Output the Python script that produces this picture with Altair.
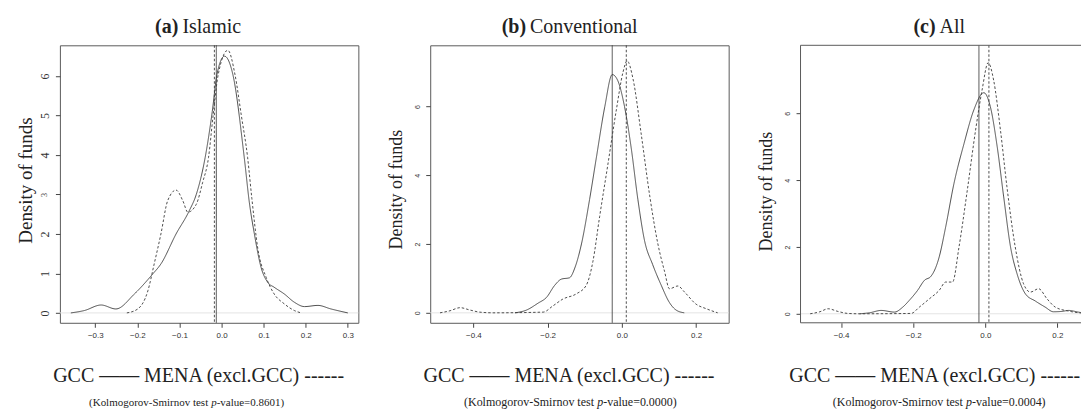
import altair as alt
import pandas as pd

# ---------------- data ----------------
# (a) Islamic
a_gcc_x = [-0.358, -0.326, -0.286, -0.251, -0.207, -0.164, -0.144, -0.108, -0.077, -0.060, -0.039,
           -0.022, -0.011, 0.007, 0.027, 0.054, 0.066, 0.078, 0.094, 0.110, 0.125, 0.149, 0.173,
           0.197, 0.229, 0.260, 0.300]
a_gcc_y = [0.0, 0.06, 0.20, 0.10, 0.48, 0.98, 1.24, 2.00, 2.58, 3.00, 3.93,
           5.10, 6.03, 6.50, 6.03, 3.93, 2.80, 2.00, 1.15, 0.77, 0.65, 0.48, 0.27,
           0.16, 0.19, 0.10, 0.0]
a_mena_x = [-0.225, -0.199, -0.175, -0.160, -0.144, -0.128, -0.108, -0.092, -0.080, -0.060, -0.045,
            -0.031, -0.020, -0.008, 0.015, 0.032, 0.047, 0.062, 0.072, 0.086, 0.106, 0.125,
            0.149, 0.173, 0.189]
a_mena_y = [0.0, 0.10, 0.56, 1.24, 2.00, 2.84, 3.11, 2.84, 2.55, 2.75, 3.30,
            3.93, 5.00, 6.03, 6.65, 6.03, 5.00, 3.93, 2.90, 1.64, 0.90, 0.48,
            0.23, 0.06, 0.0]
a_vlines = [-0.0124, -0.017]

# (b) Conventional
b_gcc_x = [-0.288, -0.257, -0.226, -0.203, -0.181, -0.163, -0.141, -0.127, -0.109, -0.087, -0.069,
           -0.046, -0.026, -0.011, 0.007, 0.025, 0.043, 0.061, 0.083, 0.106, 0.128, 0.146, 0.168]
b_gcc_y = [0.0, 0.08, 0.28, 0.45, 0.80, 0.98, 1.02, 1.30, 2.00, 3.30, 4.50,
           6.00, 6.93, 6.75, 6.00, 4.80, 3.30, 2.10, 1.40, 0.80, 0.30, 0.08, 0.0]
b_mena_x = [-0.490, -0.463, -0.436, -0.409, -0.383, -0.347, -0.212, -0.186, -0.159, -0.123, -0.096,
            -0.078, -0.060, -0.038, -0.015, 0.003, 0.014, 0.030, 0.052, 0.075, 0.097, 0.115,
            0.128, 0.151, 0.169, 0.200, 0.227, 0.258]
b_mena_y = [0.0, 0.06, 0.15, 0.08, 0.02, 0.0, 0.02, 0.20, 0.40, 0.55, 0.80,
            1.50, 2.80, 4.30, 5.90, 7.00, 7.33, 6.80, 5.20, 3.40, 2.00, 1.20,
            0.70, 0.78, 0.60, 0.25, 0.12, 0.0]
b_vlines = [-0.026, 0.0118]

# (c) All
c_gcc_x = [-0.349, -0.321, -0.289, -0.252, -0.229, -0.211, -0.188, -0.169, -0.151, -0.128, -0.110,
           -0.087, -0.059, -0.032, -0.004, 0.014, 0.033, 0.051, 0.070, 0.088, 0.111, 0.139,
           0.166, 0.189, 0.212, 0.231, 0.258, 0.286]
c_gcc_y = [0.0, 0.03, 0.10, 0.05, 0.20, 0.40, 0.70, 1.00, 1.12, 1.70, 2.60,
           3.90, 5.10, 6.10, 6.62, 6.20, 5.00, 3.50, 2.00, 1.20, 0.60, 0.38,
           0.20, 0.06, 0.07, 0.10, 0.05, 0.0]
c_mena_x = [-0.486, -0.459, -0.436, -0.409, -0.381, -0.349, -0.206, -0.183, -0.155, -0.128, -0.110,
            -0.091, -0.073, -0.050, -0.027, -0.009, 0.008, 0.023, 0.042, 0.060, 0.083, 0.106,
            0.125, 0.148, 0.171, 0.194, 0.231, 0.268, 0.286]
c_mena_y = [0.0, 0.06, 0.15, 0.07, 0.01, 0.0, 0.01, 0.20, 0.45, 0.70, 0.95,
            0.95, 2.00, 3.70, 5.50, 6.70, 7.52, 7.00, 5.50, 3.80, 2.00, 0.90,
            0.65, 0.75, 0.45, 0.20, 0.08, 0.02, 0.0]
c_vlines = [-0.0177, 0.0100]

series_names = ["GCC", "MENA (excl.GCC)"]
legend_text = "GCC \u2014\u2014 MENA (excl.GCC) ------"
pvalues = ["0.8601", "0.0000", "0.0004"]

# ---------------- layout constants ----------------
W, H = 299, 278
WC = 281  # last panel is cut at the right edge of the picture
SERIF = "Liberation Serif"
SANS = "Liberation Sans"
TXT = "#222222"
LINE = "#3a3a3a"
BOX = "#5a5a5a"

one = pd.DataFrame({"k": [0]})
dash_scale = alt.Scale(domain=series_names, range=[[1, 0], [2.5, 2]])


def make_panel(gx, gy, mx, my, vlines, xdom, xticks, ydom, yticks, ylab, ytitle_size,
               ytitle_y, letter, name, letter_right, name_left, pval, width=W,
               leg_x=139, k_center=139, k_size=12, anchor=False, open_right=False):
    df = pd.concat([
        pd.DataFrame({"x": gx, "y": gy, "series": series_names[0]}),
        pd.DataFrame({"x": mx, "y": my, "series": series_names[1]}),
    ])
    xs = alt.Scale(domain=xdom, nice=False, zero=False)
    ys = alt.Scale(domain=ydom, nice=False, zero=False)
    xaxis = alt.Axis(values=xticks, format=".1f", title=None, grid=False, domain=False,
                     tickSize=4.5, tickColor="#444", labelFont=SANS, labelFontSize=8,
                     labelColor="#333", labelPadding=4, labelFlush=False)
    yaxis = alt.Axis(values=yticks, format="d", title="Density of funds", grid=False,
                     domain=False, tickSize=4.5, tickColor="#444", labelColor="#333",
                     labelAngle=270, labelAlign="center", labelBaseline="middle",
                     titleFont=SERIF, titleFontSize=ytitle_size, titleFontWeight="normal",
                     titleColor=TXT, titleAngle=270, titleAlign="center",
                     titleBaseline="middle", titleX=-34, titleY=ytitle_y, **ylab)
    zero = alt.Chart(one).mark_rule(color="#e4e4e4", strokeWidth=1).encode(
        y=alt.datum(0, type="quantitative"))
    lines = alt.Chart(df).mark_line(color=LINE, strokeWidth=0.9, interpolate="monotone",
                                    clip=True).encode(
        x=alt.X("x:Q", scale=xs, axis=xaxis),
        y=alt.Y("y:Q", scale=ys, axis=yaxis),
        strokeDash=alt.StrokeDash("series:N", scale=dash_scale, legend=None),
        detail="series:N",
    )
    vdf = pd.DataFrame({"x": vlines, "series": series_names})
    vr = alt.Chart(vdf).mark_rule(color=LINE, strokeWidth=0.9).encode(
        x=alt.X("x:Q", scale=xs),
        strokeDash=alt.StrokeDash("series:N", scale=dash_scale, legend=None),
    )
    t_letter = alt.Chart(one).mark_text(text=letter, font=SERIF, fontSize=20, fontWeight="bold",
                                        align="right", baseline="alphabetic", color=TXT).encode(
        x=alt.value(letter_right), y=alt.value(-12))
    t_name = alt.Chart(one).mark_text(text=name, font=SERIF, fontSize=20, align="left",
                                      baseline="alphabetic", color=TXT).encode(
        x=alt.value(name_left), y=alt.value(-12))
    t_leg = alt.Chart(one).mark_text(text=legend_text, font=SERIF, fontSize=20, align="center",
                                     baseline="alphabetic", color=TXT).encode(
        x=alt.value(leg_x), y=alt.value(337.7))
    # "(Kolmogorov-Smirnov test " is ~24/64 of the full line left of the italic p
    total = 17.9 * k_size
    x0 = k_center - total / 2 + 11.0 * k_size
    t_k1 = alt.Chart(one).mark_text(text="(Kolmogorov-Smirnov test", font=SERIF, fontSize=k_size,
                                    align="right", baseline="alphabetic", color=TXT).encode(
        x=alt.value(x0), y=alt.value(361))
    t_k2 = alt.Chart(one).mark_text(text="p", font=SERIF, fontSize=k_size, fontStyle="italic",
                                    align="left", baseline="alphabetic", color=TXT).encode(
        x=alt.value(x0 + 0.27 * k_size), y=alt.value(361))
    t_k3 = alt.Chart(one).mark_text(text="-value=" + pval + ")", font=SERIF, fontSize=k_size,
                                    align="left", baseline="alphabetic", color=TXT).encode(
        x=alt.value(x0 + 0.77 * k_size), y=alt.value(361))
    layers = [zero, lines, vr, t_letter, t_name, t_leg, t_k1, t_k2, t_k3]
    if anchor:
        layers.append(alt.Chart(one).mark_rule(opacity=0).encode(
            x=alt.value(-51), y=alt.value(-36), y2=alt.value(-35)))
    props = dict(width=width, height=H)
    if open_right:
        for enc in (dict(x=alt.value(0), x2=alt.value(width), y=alt.value(0)),
                    dict(x=alt.value(0), x2=alt.value(width), y=alt.value(H)),
                    dict(x=alt.value(0), y=alt.value(0), y2=alt.value(H))):
            layers.append(alt.Chart(one).mark_rule(color=BOX, strokeWidth=1).encode(**enc))
        props["view"] = alt.ViewBackground(stroke="transparent")
    return alt.layer(*layers).properties(**props)


ylab_a = dict(labelFont=SERIF, labelFontSize={"expr": "datum.value == 3 ? 8 : 12"},
              labelPadding=11)
ylab_bc = dict(labelFont=SANS, labelFontSize=7, labelPadding=8.5)

pa = make_panel(a_gcc_x, a_gcc_y, a_mena_x, a_mena_y, a_vlines, [-0.384, 0.325],
                [-0.3, -0.2, -0.1, 0.0, 0.1, 0.2, 0.3], [-0.25, 6.775], [0, 1, 2, 3, 4, 5, 6],
                ylab_a, 19, 135, "(a)", "Islamic", 118.7, 122.7, pvalues[0], anchor=True,
                k_center=126, k_size=11)
pb = make_panel(b_gcc_x, b_gcc_y, b_mena_x, b_mena_y, b_vlines, [-0.5164, 0.2876],
                [-0.4, -0.2, 0.0, 0.2], [-0.29, 7.78], [0, 2, 4, 6],
                ylab_bc, 18, 144, "(b)", "Conventional", 96, 100, pvalues[1],
                k_center=139.5, k_size=12)
pc = make_panel(c_gcc_x, c_gcc_y, c_mena_x, c_mena_y, c_vlines,
                [-0.5127, -0.5127 + WC / 361.1],
                [-0.4, -0.2, 0.0, 0.2], [-0.27, 8.04], [0, 2, 4, 6],
                ylab_bc, 18, 146, "(c)", "All", 135.3, 139.3, pvalues[2], width=WC,
                leg_x=134.5, k_center=138, k_size=12, open_right=True)

chart = alt.hconcat(pa, pb, pc, spacing=72, bounds="flush").properties(
    padding=0, background="white"
).configure_view(stroke=BOX, strokeWidth=1)

chart.save("out.html", embed_options={"renderer": "svg", "actions": False})
